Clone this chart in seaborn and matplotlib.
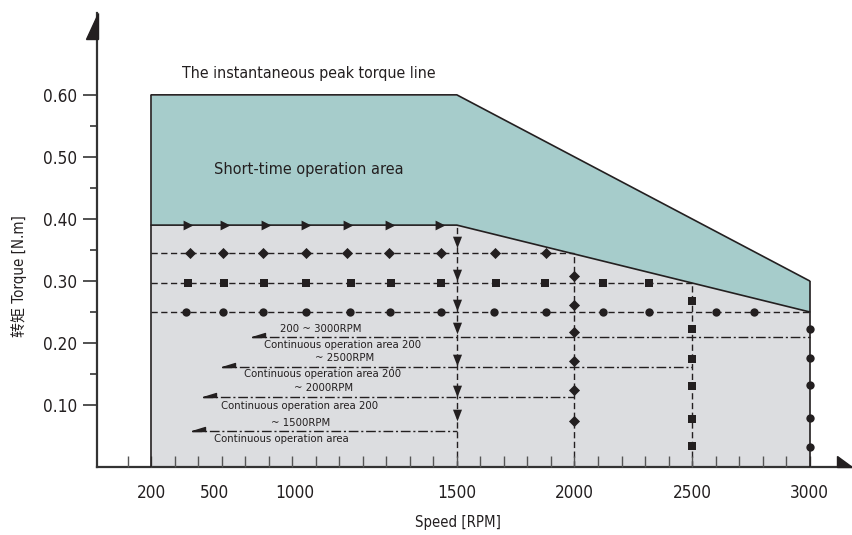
import numpy as np
import pandas as pd
import seaborn as sns
import matplotlib.pyplot as plt
from matplotlib import font_manager
from matplotlib.patches import Polygon

# envelope of the two operation areas
env_rpm = [200, 1500, 3000]
peak_torque = [0.60, 0.60, 0.30]
cont_torque = [0.39, 0.39, 0.25]

# flow arrows along the continuous line and down the 1500 rpm line
flow_rpm = [357, 514, 688, 858, 1037, 1215, 1428]
drop_rpm = 1500
drop_torque = [0.363, 0.310, 0.261, 0.224, 0.173, 0.123, 0.084]

# marker rows (constant torque) and columns (constant speed)
diamond_level = 0.345
diamond_row_rpm = [365, 506, 676, 858, 1033, 1211, 1432, 1661, 1878]
diamond_col_rpm = 2000
diamond_col_torque = [0.308, 0.261, 0.218, 0.171, 0.124, 0.074]

square_level = 0.297
square_row_rpm = [357, 510, 680, 858, 1050, 1220, 1432, 1666, 1874, 2120, 2316]
square_col_rpm = 2500
square_col_torque = [0.268, 0.223, 0.174, 0.131, 0.077, 0.034]

circle_level = 0.25
circle_row_rpm = [348, 506, 676, 858, 1045, 1215, 1432, 1657, 1878, 2120, 2316, 2601, 2762]
circle_col_rpm = 3000
circle_col_torque = [0.223, 0.176, 0.132, 0.079, 0.032]

# dash-dot speed range lines
range_torque = [0.21, 0.161, 0.113, 0.058]
range_start = [629, 501, 420, 374]
range_end = [3000, 2500, 2000, 1500]

range_labels = ["200 ~ 3000RPM", "Continuous operation area 200", "~ 2500RPM",
                "Continuous operation area 200", "~ 2000RPM",
                "Continuous operation area 200", "~ 1500RPM",
                "Continuous operation area"]
range_label_xy = [(922, 0.2226), (1015, 0.1968), (1024, 0.1758), (931, 0.150),
                  (935, 0.1274), (833, 0.0984), (837, 0.071), (752, 0.045)]

xtick_pos = [200, 470, 810, 1500, 2000, 2500, 3000]
xtick_labels = ["200", "500", "1000", "1500", "2000", "2500", "3000"]
ytick_major = [0.10, 0.20, 0.30, 0.40, 0.50, 0.60]
ytick_minor = [0.15, 0.25, 0.35, 0.45, 0.55]

TEAL = "#a6cccb"
GREY = "#dcdde0"
INK = "#231f20"

sns.set_theme(style="ticks")

# the original uses a condensed grotesque; take the narrowest installed face
fonts = font_manager.fontManager.ttflist
names = {f.name for f in fonts}
condensed = [f.name for f in fonts if f.stretch in ("condensed", "semi-condensed")]
stretch = "normal"
if "Liberation Sans Narrow" in names:
    base = "Liberation Sans Narrow"
elif condensed:
    base = condensed[0]
    stretch = "condensed"
elif "Roboto" in names:
    base = "Roboto"
else:
    base = "DejaVu Sans"
plt.rcParams["font.family"] = [base, "Noto Sans CJK SC", "DejaVu Sans"]
plt.rcParams["font.stretch"] = stretch
plt.rcParams["axes.axisbelow"] = False

fig = plt.figure(figsize=(8.53, 5.35), dpi=100)
ax = fig.add_axes([97 / 853, 68 / 535, 755 / 853, 454 / 535])
ax.set_xlim(-30, 3180)
ax.set_ylim(0, 0.732)

# areas
ax.fill_between(env_rpm, cont_torque, peak_torque, color=TEAL, lw=0, zorder=1)
ax.fill_between(env_rpm, 0, cont_torque, color=GREY, lw=0, zorder=1)
ax.plot(env_rpm, peak_torque, color=INK, lw=1.2, zorder=4)
ax.plot(env_rpm, cont_torque, color=INK, lw=1.2, zorder=4)
ax.vlines([env_rpm[0]], 0, peak_torque[0], color=INK, lw=1.2, zorder=4)
ax.vlines([env_rpm[-1]], 0, peak_torque[-1], color=INK, lw=1.2, zorder=4)

dash = (0, (4.5, 2.5))
dashdot = (0, (7, 2, 1.5, 2))

# constant-torque rows and constant-speed columns
for level, col in [(diamond_level, diamond_col_rpm), (square_level, square_col_rpm),
                   (circle_level, circle_col_rpm)]:
    ax.hlines(level, env_rpm[0], col, color=INK, lw=1.0, linestyles=dash, zorder=2)
    if col != env_rpm[-1]:
        ax.vlines(col, 0, level, color=INK, lw=1.0, linestyles=dash, zorder=2)
ax.vlines(drop_rpm, 0, cont_torque[1], color=INK, lw=1.0, linestyles=dash, zorder=2)

# speed range lines with half arrow heads
half_arrow = [(0, 0), (13, 0), (13, 4), (0, 0)]
for t, x0, x1 in zip(range_torque, range_start, range_end):
    ax.hlines(t, x0, x1, color=INK, lw=1.0, linestyles=dashdot, zorder=2)
    ax.plot([x0], [t], marker=half_arrow, ms=18.7, color=INK, lw=0, zorder=3)

# markers
diamonds = pd.DataFrame({
    "rpm": diamond_row_rpm + [diamond_col_rpm] * len(diamond_col_torque),
    "torque": [diamond_level] * len(diamond_row_rpm) + diamond_col_torque})
squares = pd.DataFrame({
    "rpm": square_row_rpm + [square_col_rpm] * len(square_col_torque),
    "torque": [square_level] * len(square_row_rpm) + square_col_torque})
circles = pd.DataFrame({
    "rpm": circle_row_rpm + [circle_col_rpm] * len(circle_col_torque),
    "torque": [circle_level] * len(circle_row_rpm) + circle_col_torque})
sns.scatterplot(data=diamonds, x="rpm", y="torque", marker="D", s=32,
                color=INK, linewidth=0, zorder=5, ax=ax)
sns.scatterplot(data=squares, x="rpm", y="torque", marker="s", s=32,
                color=INK, linewidth=0, zorder=5, ax=ax)
sns.scatterplot(data=circles, x="rpm", y="torque", marker="o", s=36,
                color=INK, linewidth=0, zorder=5, ax=ax)

flows = pd.DataFrame({"rpm": flow_rpm, "torque": [cont_torque[0]] * len(flow_rpm)})
sns.scatterplot(data=flows, x="rpm", y="torque", marker=">", s=50,
                color=INK, linewidth=0, zorder=5, ax=ax)
down = [(-3.5, 4.5), (3.5, 4.5), (0, -4.5), (-3.5, 4.5)]
drops = pd.DataFrame({"rpm": [drop_rpm] * len(drop_torque), "torque": drop_torque})
sns.scatterplot(data=drops, x="rpm", y="torque", marker=down, s=70,
                color=INK, linewidth=0, zorder=5, ax=ax)

# texts
range_texts = [ax.text(x, y, label, ha="center", va="center", fontsize=9, color=INK, zorder=6)
               for label, (x, y) in zip(range_labels, range_label_xy)]
peak_text = ax.text(331, 0.635, "The instantaneous peak torque line", ha="left",
                    va="center", fontsize=12, color=INK)
short_text = ax.text(467, 0.479, "Short-time operation area", ha="left", va="center",
                     fontsize=12, color=INK, zorder=6)

# axes
sns.despine(ax=ax)
for side in ["left", "bottom"]:
    ax.spines[side].set_color("#333333")
    ax.spines[side].set_linewidth(1.6)
ax.grid(False)

ax.set_xticks(xtick_pos, xtick_labels)
ax.set_xticks(np.arange(100, 3001, 100), minor=True)
ax.xaxis.remove_overlapping_locs = False
ax.tick_params(axis="x", which="major", length=0, pad=12, labelsize=12, labelcolor=INK)
ax.tick_params(axis="x", which="minor", direction="in", length=8, width=1.0, color="#555555")

ax.set_yticks(ytick_major, [f"{v:.2f}" for v in ytick_major])
ax.set_yticks(ytick_minor, minor=True)
ax.tick_params(axis="y", which="major", direction="out", length=10, width=1.2,
               color="#333333", pad=4, labelsize=12, labelcolor=INK)
ax.tick_params(axis="y", which="minor", direction="out", length=5, width=1.2, color="#333333")

ax.set_xlabel("Speed [RPM]", fontsize=11, color=INK)
ax.set_ylabel("转矩 Torque [N.m]", fontsize=11, color=INK)
ax.xaxis.label.set_va("center")
ax.yaxis.label.set_va("center")
ax.xaxis.set_label_coords((458 - 97) / 755, (467 - 522) / 454)
ax.yaxis.set_label_coords((19 - 97) / 755, (467 - 276) / 454)

# scale the text so it takes about the same room as in the original
fig.canvas.draw()
renderer = fig.canvas.get_renderer()


def fit(text, target, vertical=False):
    box = text.get_window_extent(renderer)
    size = box.height if vertical else box.width
    return text.get_fontsize() * target / size


range_size = fit(range_texts[1], 158)
for t in range_texts:
    t.set_fontsize(range_size)
peak_text.set_fontsize(fit(peak_text, 255))
short_text.set_fontsize(fit(short_text, 188))
yt = [t for t in ax.get_yticklabels() if t.get_text() == "0.60"][0]
ax.tick_params(axis="both", which="major", labelsize=fit(yt, 34))
ax.xaxis.label.set_fontsize(fit(ax.xaxis.label, 86))
ax.yaxis.label.set_fontsize(fit(ax.yaxis.label, 122, vertical=True))

# arrow heads on the axes
ax.add_patch(Polygon([(0.001, 1.0), (0.001, 0.943), (-0.0146, 0.943)], closed=True,
                     transform=ax.transAxes, color=INK, clip_on=False, zorder=6))
ax.add_patch(Polygon([(0.980, 0.024), (0.980, 0.0), (1.0, 0.0)], closed=True,
                     transform=ax.transAxes, color=INK, clip_on=False, zorder=6))

plt.savefig("out.png", dpi=100)
